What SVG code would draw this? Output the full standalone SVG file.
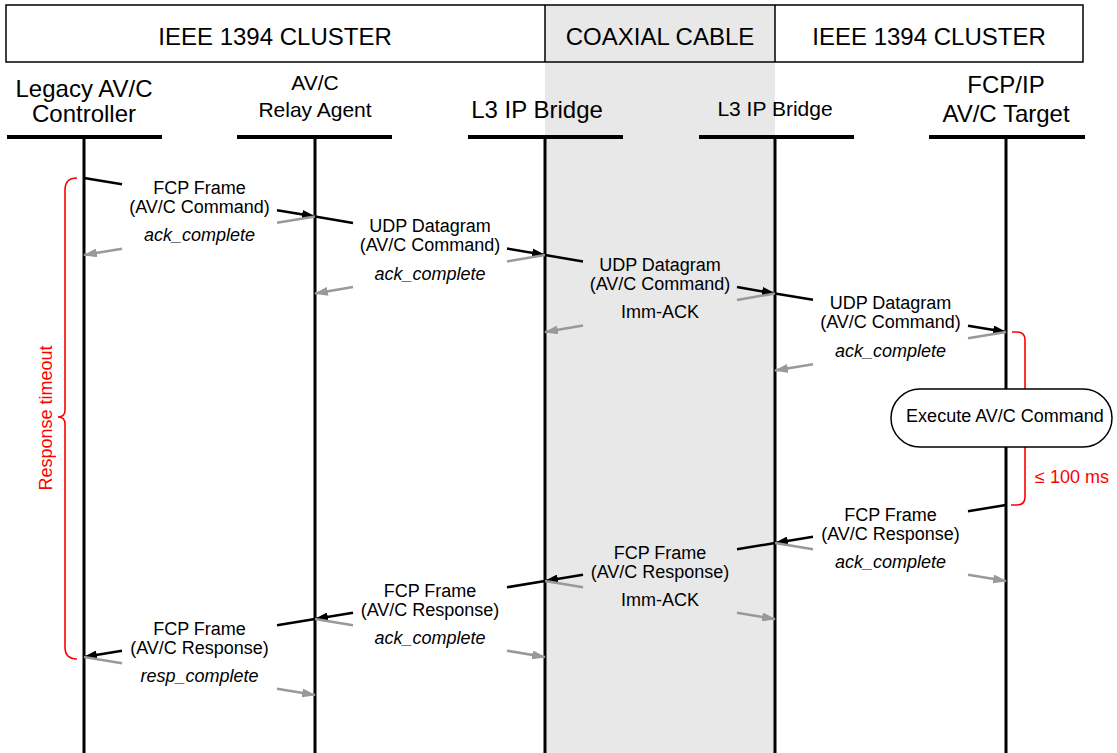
<svg xmlns="http://www.w3.org/2000/svg" width="1117" height="753" viewBox="0 0 1117 753">
<style>
text{font-family:"Liberation Sans",Arial,sans-serif;fill:#000}
.hd{font-size:24px;text-anchor:middle}
.lb{font-size:24px;text-anchor:middle}
.ls{font-size:21px;text-anchor:middle}
.m{font-size:18px;text-anchor:middle}
.ack{font-size:18px;text-anchor:middle;font-style:italic}
.bar{stroke:#000;stroke-width:4;fill:none}
.life{stroke:#000;stroke-width:3;fill:none}
.msg{stroke:#000;stroke-width:2.5;fill:none}
.ak{stroke:#999;stroke-width:2.5;fill:none}
.red{stroke:#ff0000;stroke-width:1.6;fill:none}
.rt{fill:#ff0000;font-size:18px}
</style>
<defs>
<marker id="ab" markerUnits="userSpaceOnUse" markerWidth="14" markerHeight="9" viewBox="0 0 14 9" refX="13" refY="4.5" orient="auto"><path d="M0,0 L14,4.5 L0,9 z" fill="#000"/></marker>
<marker id="ag" markerUnits="userSpaceOnUse" markerWidth="14" markerHeight="9" viewBox="0 0 14 9" refX="13" refY="4.5" orient="auto"><path d="M0,0 L14,4.5 L0,9 z" fill="#999"/></marker>
</defs>
<rect x="0" y="0" width="1117" height="753" fill="#fff"/>
<g id="coax-region"><rect x="545" y="5" width="230" height="748" fill="#e8e8e8"/></g>
<g id="header">
<rect x="6" y="5" width="1077" height="57" fill="none" stroke="#000" stroke-width="1.5"/>
<line x1="545" y1="5" x2="545" y2="62" stroke="#000" stroke-width="1.5"/>
<line x1="775" y1="5" x2="775" y2="62" stroke="#000" stroke-width="1.5"/>
<text class="hd" x="275" y="45">IEEE 1394 CLUSTER</text>
<text class="hd" x="660" y="45">COAXIAL CABLE</text>
<text class="hd" x="929" y="45">IEEE 1394 CLUSTER</text>
</g>
<g id="legacy-controller">
<text class="lb" x="84" y="96.5">Legacy AV/C</text>
<text class="lb" x="84" y="121.5">Controller</text>
<line class="bar" x1="7" y1="137" x2="162" y2="137"/>
<line class="life" x1="84" y1="137" x2="84" y2="753"/>
</g>
<g id="relay-agent">
<text class="ls" x="315" y="90">AV/C</text>
<text class="ls" x="315" y="116.5">Relay Agent</text>
<line class="bar" x1="237" y1="137" x2="392" y2="137"/>
<line class="life" x1="315" y1="137" x2="315" y2="753"/>
</g>
<g id="bridge-1">
<text class="lb" x="537" y="118">L3 IP Bridge</text>
<line class="bar" x1="468" y1="137" x2="623" y2="137"/>
<line class="life" x1="545" y1="137" x2="545" y2="753"/>
</g>
<g id="bridge-2">
<text class="ls" x="775" y="116">L3 IP Bridge</text>
<line class="bar" x1="699" y1="137" x2="854" y2="137"/>
<line class="life" x1="775" y1="137" x2="775" y2="753"/>
</g>
<g id="target">
<text class="lb" x="1006" y="93">FCP/IP</text>
<text class="lb" x="1006" y="121.5">AV/C Target</text>
<line class="bar" x1="929" y1="137" x2="1085" y2="137"/>
<line class="life" x1="1006" y1="137" x2="1006" y2="753"/>
</g>
<g id="annotations">
<path class="red" d="M77,178 Q65,178 65,190 V410 Q65,417 58,417 Q65,417 65,424 V647 Q65,659 77,659"/>
<text class="rt" transform="translate(52,418) rotate(-90)" text-anchor="middle">Response timeout</text>
<path class="red" d="M1012,332 H1017 Q1025,332 1025,340 V497 Q1025,505 1017,505 H1011"/>
<text class="rt" x="1035" y="483">≤ 100 ms</text>
</g>
<g id="execute">
<rect x="891" y="389" width="221" height="58" rx="29" ry="29" fill="#fff" stroke="#000" stroke-width="1.5"/>
<text class="m" x="1005" y="422">Execute AV/C Command</text>
</g>
<g id="connectors">
<line class="msg" x1="84" y1="178" x2="122" y2="184.3"/>
<line class="msg" x1="277" y1="210.2" x2="315" y2="216.5" marker-end="url(#ab)"/>
<line class="ak" x1="315" y1="216.5" x2="277" y2="222.8"/>
<line class="ak" x1="122" y1="248.7" x2="84" y2="255" marker-end="url(#ag)"/>
<line class="msg" x1="315" y1="216.5" x2="353" y2="222.9"/>
<line class="msg" x1="507" y1="248.6" x2="545" y2="255" marker-end="url(#ab)"/>
<line class="ak" x1="545" y1="255" x2="507" y2="261.4"/>
<line class="ak" x1="353" y1="287.1" x2="315" y2="293.5" marker-end="url(#ag)"/>
<line class="msg" x1="545" y1="255" x2="583" y2="261.4"/>
<line class="msg" x1="737" y1="287.1" x2="775" y2="293.5" marker-end="url(#ab)"/>
<line class="ak" x1="775" y1="293.5" x2="737" y2="299.9"/>
<line class="ak" x1="583" y1="325.6" x2="545" y2="332" marker-end="url(#ag)"/>
<line class="msg" x1="775" y1="293.5" x2="813" y2="299.8"/>
<line class="msg" x1="968" y1="325.7" x2="1006" y2="332" marker-end="url(#ab)"/>
<line class="ak" x1="1006" y1="332" x2="968" y2="338.3"/>
<line class="ak" x1="813" y1="364.2" x2="775" y2="370.5" marker-end="url(#ag)"/>
<line class="msg" x1="1006" y1="505" x2="968" y2="511.25"/>
<line class="msg" x1="813" y1="536.75" x2="775" y2="543" marker-end="url(#ab)"/>
<line class="ak" x1="775" y1="543" x2="813" y2="549.25"/>
<line class="ak" x1="968" y1="574.75" x2="1006" y2="581" marker-end="url(#ag)"/>
<line class="msg" x1="775" y1="543" x2="737" y2="549.3"/>
<line class="msg" x1="583" y1="574.7" x2="545" y2="581" marker-end="url(#ab)"/>
<line class="ak" x1="545" y1="581" x2="583" y2="587.3"/>
<line class="ak" x1="737" y1="612.7" x2="775" y2="619" marker-end="url(#ag)"/>
<line class="msg" x1="545" y1="581" x2="507" y2="587.3"/>
<line class="msg" x1="353" y1="612.7" x2="315" y2="619" marker-end="url(#ab)"/>
<line class="ak" x1="315" y1="619" x2="353" y2="625.3"/>
<line class="ak" x1="507" y1="650.7" x2="545" y2="657" marker-end="url(#ag)"/>
<line class="msg" x1="315" y1="619" x2="277" y2="625.25"/>
<line class="msg" x1="122" y1="650.75" x2="84" y2="657" marker-end="url(#ab)"/>
<line class="ak" x1="84" y1="657" x2="122" y2="663.25"/>
<line class="ak" x1="277" y1="688.75" x2="315" y2="695" marker-end="url(#ag)"/>
</g>
<g id="labels">
<text class="m" x="199.5" y="194">FCP Frame</text>
<text class="m" x="199.5" y="213">(AV/C Command)</text>
<text class="ack" x="199.5" y="241">ack_complete</text>
<text class="m" x="430" y="232">UDP Datagram</text>
<text class="m" x="430" y="251">(AV/C Command)</text>
<text class="ack" x="430" y="280">ack_complete</text>
<text class="m" x="660" y="271">UDP Datagram</text>
<text class="m" x="660" y="290">(AV/C Command)</text>
<text class="m" x="660" y="318">Imm-ACK</text>
<text class="m" x="890.5" y="309">UDP Datagram</text>
<text class="m" x="890.5" y="328">(AV/C Command)</text>
<text class="ack" x="890.5" y="357">ack_complete</text>
<text class="m" x="890.5" y="520.5">FCP Frame</text>
<text class="m" x="890.5" y="539.5">(AV/C Response)</text>
<text class="ack" x="890.5" y="568">ack_complete</text>
<text class="m" x="660" y="558.5">FCP Frame</text>
<text class="m" x="660" y="577.5">(AV/C Response)</text>
<text class="m" x="660" y="606">Imm-ACK</text>
<text class="m" x="430" y="596.5">FCP Frame</text>
<text class="m" x="430" y="615.5">(AV/C Response)</text>
<text class="ack" x="430" y="644">ack_complete</text>
<text class="m" x="199.5" y="634.5">FCP Frame</text>
<text class="m" x="199.5" y="653.5">(AV/C Response)</text>
<text class="ack" x="199.5" y="682">resp_complete</text>
</g>
</svg>
